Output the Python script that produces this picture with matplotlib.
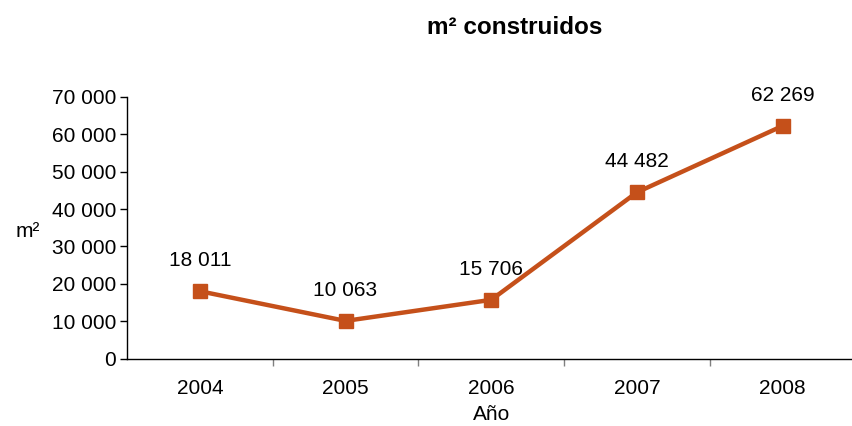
import matplotlib
matplotlib.use("Agg")
import matplotlib.pyplot as plt
from matplotlib.ticker import FuncFormatter, FixedLocator

years = ["2004", "2005", "2006", "2007", "2008"]
area_m2 = [18011, 10063, 15706, 44482, 62269]
y_ticks = [0, 10000, 20000, 30000, 40000, 50000, 60000, 70000]

plt.rcParams['font.family'] = ['Liberation Sans', 'DejaVu Sans']

W, H = 852, 426
fig = plt.figure(figsize=(W / 100, H / 100), dpi=100)
left, right = 127 / W, 855.5 / W
bottom, top = 1 - 358.5 / H, 1 - 97 / H
ax = fig.add_axes([left, bottom, right - left, top - bottom])

color = "#C5501A"
x = list(range(len(years)))
ax.plot(x, area_m2, color=color, lw=3.2, marker="s", ms=10, mfc=color, mec=color,
        solid_joinstyle="miter", clip_on=False)

def fmt(v, _=None):
    return f"{int(v):,}".replace(",", " ")

for xi, v in zip(x, area_m2):
    ax.annotate(fmt(v), (xi, v), xytext=(0, 22), textcoords="offset points",
                ha="center", va="center", fontsize=15, color="black")

ax.set_xlim(-0.5, len(years) - 0.5)
ax.set_ylim(0, 70000)
ax.yaxis.set_major_locator(FixedLocator(y_ticks))
ax.yaxis.set_major_formatter(FuncFormatter(fmt))

ax.set_xticks(x)
ax.set_xticklabels(years)
ax.set_xticks([i + 0.5 for i in range(len(years) - 1)], minor=True)
ax.tick_params(axis="x", which="major", length=0, pad=15, labelsize=15)
ax.tick_params(axis="x", which="minor", length=5, color="#808080", width=1)
ax.tick_params(axis="y", which="major", length=5, width=1, labelsize=15, pad=3)

for s in ["top", "right"]:
    ax.spines[s].set_visible(False)
for s in ["left", "bottom"]:
    ax.spines[s].set_linewidth(1)
    ax.spines[s].set_color("black")

ax.set_xlabel("Año", fontsize=15, labelpad=5)
fig.text(28 / W, 1 - 231 / H, "m²", fontsize=15, ha="center", va="center")
fig.text(515 / W, 1 - 28 / H, "m² construidos", fontsize=17.5,
         fontweight="bold", ha="center", va="center")

fig.savefig("out.png", dpi=100)
